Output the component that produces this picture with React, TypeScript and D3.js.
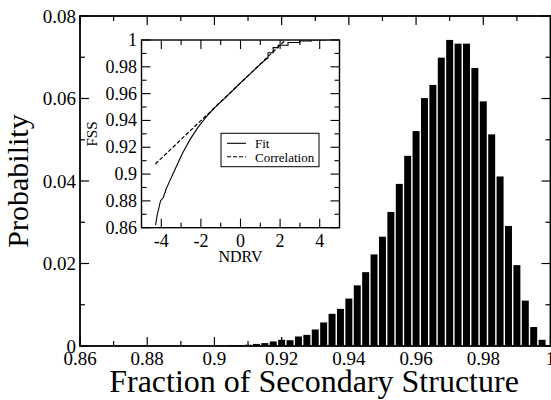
import React from "react";
import * as d3 from "d3";

// histogram: bin centres (fraction of secondary structure) and probabilities
const binCenters = [
  0.9025, 0.905, 0.9075, 0.91, 0.9125, 0.915, 0.9175, 0.92, 0.9225, 0.925,
  0.9275, 0.93, 0.9325, 0.935, 0.9375, 0.94, 0.9425, 0.945, 0.9475, 0.95,
  0.9525, 0.955, 0.9575, 0.96, 0.9625, 0.965, 0.9675, 0.97, 0.9725, 0.975,
  0.9775, 0.98, 0.9825, 0.985, 0.9875, 0.99, 0.9925, 0.995, 0.9975,
];
const probs = [
  0.0001, 0.0002, 0.0002, 0.0003, 0.0005, 0.0007, 0.0011, 0.0015, 0.0014, 0.0023,
  0.0027, 0.004, 0.0057, 0.0078, 0.009, 0.0115, 0.0147, 0.0179, 0.0222, 0.0265,
  0.0325, 0.0393, 0.0461, 0.0521, 0.0601, 0.0633, 0.0699, 0.0742, 0.0733, 0.0733,
  0.0674, 0.0593, 0.0513, 0.0411, 0.0291, 0.0196, 0.011, 0.0046, 0.0015,
];
const binWidth = 0.0025;

const mainXTicks = [0.86, 0.88, 0.9, 0.92, 0.94, 0.96, 0.98, 1];
const mainXLabels = ["0.86", "0.88", "0.9", "0.92", "0.94", "0.96", "0.98", "1"];
const mainYTicks = [0, 0.02, 0.04, 0.06, 0.08];
const mainYLabels = ["0", "0.02", "0.04", "0.06", "0.08"];

// inset: normal probability plot
const fitNdrv = [
  -4.29, -4.2, -4.04, -3.9, -3.75, -3.6, -3.32, -2.93, -2.56, -2.14, -1.72, -1.3,
  -0.6, 0, 0.64, 1.0, 1.3, 1.39, 1.39, 1.65, 1.65, 1.9, 1.9, 2.4, 2.4, 2.99, 2.99,
  3.58, 3.58, 4.3,
];
const fitFss = [
  0.862, 0.87, 0.88, 0.8825, 0.889, 0.894, 0.903, 0.9155, 0.9255, 0.935, 0.9428,
  0.9495, 0.9593, 0.968, 0.9768, 0.9818, 0.9858, 0.9865, 0.9905, 0.9905, 0.9943,
  0.9943, 0.9961, 0.9961, 0.9981, 0.9981, 0.9993, 0.9993, 1.0, 1.0,
];
const corrNdrv = [-4.3, 2.27];
const corrFss = [0.9075, 1.0];

const insetXTicks = [-4, -2, 0, 2, 4];
const insetXLabels = ["-4", "-2", "0", "2", "4"];
const insetYTicks = [0.86, 0.88, 0.9, 0.92, 0.94, 0.96, 0.98, 1];
const insetYLabels = ["0.86", "0.88", "0.9", "0.92", "0.94", "0.96", "0.98", "1"];

const font = "'Liberation Serif', 'Times New Roman', serif";

export default function App() {
  const W = 551;
  const H = 400;

  const x = d3.scaleLinear().domain([0.86, 1]).range([80, 550.5]);
  const y = d3.scaleLinear().domain([0, 0.08]).range([346, 16]);

  const ix = d3.scaleLinear().domain([-5, 5]).range([141.5, 339.5]);
  const iy = d3.scaleLinear().domain([0.86, 1]).range([227.7, 40]);

  const xMinor = d3.range(0, 15).map((i) => 0.86 + i * 0.01);
  const yMinor = d3.range(0, 9).map((i) => i * 0.01);
  const ixMinor = d3.range(-5, 6, 1);
  const iyMinor = d3.range(0, 15).map((i) => 0.86 + i * 0.01);

  const isMajor = (v: number, arr: number[]) => arr.some((t) => Math.abs(t - v) < 1e-9);

  const line = d3
    .line<[number, number]>()
    .x((d) => ix(d[0]))
    .y((d) => iy(d[1]));
  const fitPts = fitNdrv.map((v, i) => [v, fitFss[i]] as [number, number]);
  const corrPts = corrNdrv.map((v, i) => [v, corrFss[i]] as [number, number]);

  const bw = (x(0.86 + binWidth) - x(0.86)) * 0.83;

  return (
    <svg width={W} height={H} style={{ position: "absolute", left: 0, top: 0, background: "#fff" }}>
      <defs>
        <clipPath id="insetClip">
          <rect x={ix(-5)} y={iy(1)} width={ix(5) - ix(-5)} height={iy(0.86) - iy(1)} />
        </clipPath>
      </defs>
      {/* bars */}
      {binCenters.map((c, i) => (
        <rect
          key={i}
          x={x(c) - bw / 2}
          y={y(probs[i])}
          width={bw}
          height={y(0) - y(probs[i])}
          fill="#000"
        />
      ))}

      {/* main ticks */}
      {xMinor.map((v, i) => {
        const len = isMajor(v, mainXTicks) ? 9 : 5;
        return (
          <g key={"xm" + i} stroke="#000" strokeWidth={1.2}>
            <line x1={x(v)} x2={x(v)} y1={346} y2={346 - len} />
            <line x1={x(v)} x2={x(v)} y1={16} y2={16 + len} />
          </g>
        );
      })}
      {yMinor.map((v, i) => {
        const len = isMajor(v, mainYTicks) ? 9 : 5;
        return (
          <g key={"ym" + i} stroke="#000" strokeWidth={1.2}>
            <line x1={80} x2={80 + len} y1={y(v)} y2={y(v)} />
            <line x1={550.5} x2={550.5 - len} y1={y(v)} y2={y(v)} />
          </g>
        );
      })}
      <rect x={80} y={16} width={470.5} height={330} fill="none" stroke="#000" strokeWidth={1.8} />

      {/* main tick labels */}
      {mainXTicks.map((v, i) => (
        <text key={"xl" + i} x={x(v)} y={365} textAnchor="middle" fontFamily={font} fontSize={19}>
          {mainXLabels[i]}
        </text>
      ))}
      {mainYTicks.map((v, i) => (
        <text key={"yl" + i} x={76} y={y(v) + 6.5} textAnchor="end" fontFamily={font} fontSize={19}>
          {mainYLabels[i]}
        </text>
      ))}
      <text x={314} y={392} textAnchor="middle" fontFamily={font} fontSize={32}>
        Fraction of Secondary Structure
      </text>
      <text
        transform={`translate(28,181) rotate(-90)`}
        textAnchor="middle"
        fontFamily={font}
        fontSize={30}
      >
        Probability
      </text>

      {/* inset */}
      <rect x={ix(-5)} y={iy(1)} width={ix(5) - ix(-5)} height={iy(0.86) - iy(1)} fill="#fff" />
      <g clipPath="url(#insetClip)" fill="none" stroke="#000">
        <path d={line(corrPts) || ""} strokeWidth={1.2} strokeDasharray="4,2" />
        <path d={line(fitPts) || ""} strokeWidth={1.1} />
      </g>
      {ixMinor.map((v, i) => {
        const len = isMajor(v, insetXTicks) ? 9 : 5;
        return (
          <g key={"ixm" + i} stroke="#000" strokeWidth={1.1}>
            <line x1={ix(v)} x2={ix(v)} y1={iy(0.86)} y2={iy(0.86) - len} />
            <line x1={ix(v)} x2={ix(v)} y1={iy(1)} y2={iy(1) + len} />
          </g>
        );
      })}
      {iyMinor.map((v, i) => {
        const len = isMajor(v, insetYTicks) ? 9 : 5;
        return (
          <g key={"iym" + i} stroke="#000" strokeWidth={1.1}>
            <line x1={ix(-5)} x2={ix(-5) + len} y1={iy(v)} y2={iy(v)} />
            <line x1={ix(5)} x2={ix(5) - len} y1={iy(v)} y2={iy(v)} />
          </g>
        );
      })}
      <rect
        x={ix(-5)}
        y={iy(1)}
        width={ix(5) - ix(-5)}
        height={iy(0.86) - iy(1)}
        fill="none"
        stroke="#000"
        strokeWidth={1.4}
      />
      {insetXTicks.map((v, i) => (
        <text key={"ixl" + i} x={ix(v)} y={246.5} textAnchor="middle" fontFamily={font} fontSize={18}>
          {insetXLabels[i]}
        </text>
      ))}
      {insetYTicks.map((v, i) => (
        <text key={"iyl" + i} x={137} y={iy(v) + 6} textAnchor="end" fontFamily={font} fontSize={18}>
          {insetYLabels[i]}
        </text>
      ))}
      <text x={240.5} y={262} textAnchor="middle" fontFamily={font} fontSize={16}>
        NDRV
      </text>
      <text transform={`translate(97,134) rotate(-90)`} textAnchor="middle" fontFamily={font} fontSize={15}>
        FSS
      </text>

      {/* legend */}
      <rect x={221} y={133.3} width={98} height={33.4} fill="#fff" stroke="#000" strokeWidth={1} />
      <line x1={227} x2={246} y1={143.3} y2={143.3} stroke="#000" strokeWidth={1.1} />
      <text x={255} y={148} fontFamily={font} fontSize={13}>
        Fit
      </text>
      <line x1={227} x2={246} y1={156.7} y2={156.7} stroke="#000" strokeWidth={1.1} strokeDasharray="4,2" />
      <text x={255} y={161.5} fontFamily={font} fontSize={13}>
        Correlation
      </text>
    </svg>
  );
}
